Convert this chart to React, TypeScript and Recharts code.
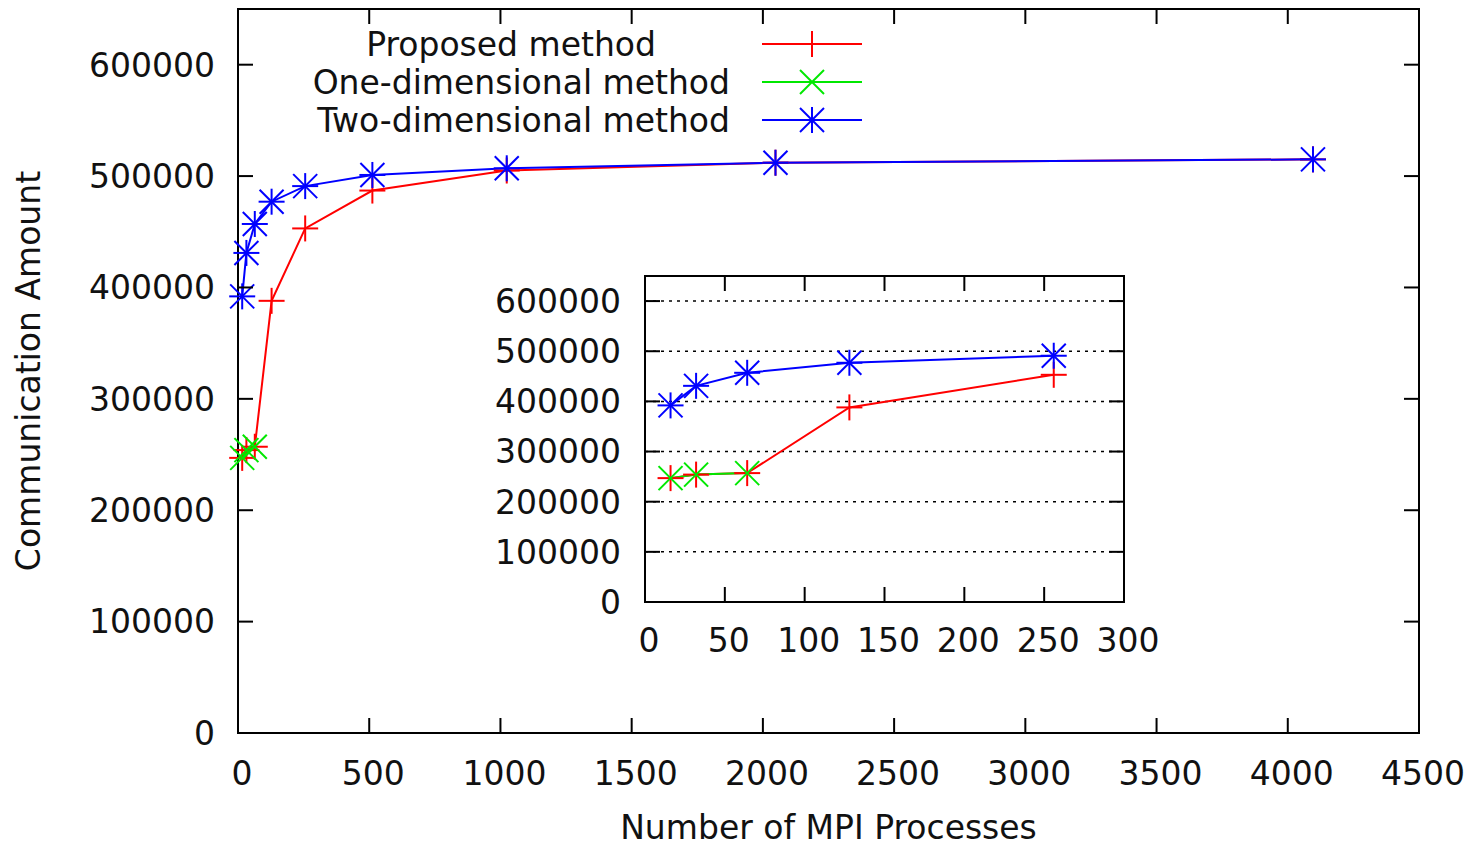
import React from 'react';
import { LineChart, Line, XAxis, YAxis, CartesianGrid, Legend, ReferenceArea } from 'recharts';

// number of MPI processes
const procs = [16, 32, 64, 128, 256, 512, 1024, 2048, 4096];
// communication amount per method
const proposed = [247000, 254000, 257000, 388000, 453000, 487000, 505000, 512000, 515000];
const oneDim = [247000, 254000, 257000, null, null, null, null, null, null];
const twoDim = [392000, 431000, 457000, 477000, 491000, 501000, 507000, 512000, 515000];

const mainXTicks = [0, 500, 1000, 1500, 2000, 2500, 3000, 3500, 4000, 4500];
const insetXTicks = [0, 50, 100, 150, 200, 250, 300];
const yTicks = [0, 100000, 200000, 300000, 400000, 500000, 600000];

const data = procs.map((p, i) => ({
  procs: p,
  proposed: proposed[i],
  oneDim: oneDim[i],
  twoDim: twoDim[i],
}));
const insetData = data.filter((d) => d.procs <= 300);

const RED = '#ff0000';
const GREEN = '#00e800';
const BLUE = '#0000ff';
const INK = '#111111';
const FONT = 'DejaVu Sans, sans-serif';
const FS = 33;
const TICK = 15;

// plot box of the main chart (px)
const M = { left: 238, right: 1419, top: 9, bottom: 733 };
// plot box of the inset chart, relative to its own svg
const I = { left: 165, right: 644, top: 10, bottom: 336 };

const Plus = ({ cx, cy, color }: any) => (
  <g stroke={color} strokeWidth={2}>
    <line x1={cx - 13} x2={cx + 13} y1={cy} y2={cy} />
    <line x1={cx} x2={cx} y1={cy - 13} y2={cy + 13} />
  </g>
);
const Cross = ({ cx, cy, color }: any) => (
  <g stroke={color} strokeWidth={2}>
    <line x1={cx - 12} x2={cx + 12} y1={cy - 12} y2={cy + 12} />
    <line x1={cx - 12} x2={cx + 12} y1={cy + 12} y2={cy - 12} />
  </g>
);
const Star = ({ cx, cy, color }: any) => (
  <g>
    <Plus cx={cx} cy={cy} color={color} />
    <Cross cx={cx} cy={cy} color={color} />
  </g>
);

const series = [
  { key: 'proposed', label: 'Proposed method', color: RED, Marker: Plus },
  { key: 'oneDim', label: 'One-dimensional method', color: GREEN, Marker: Cross },
  { key: 'twoDim', label: 'Two-dimensional method', color: BLUE, Marker: Star },
];

const makeDot = (Marker: any, color: string) => (p: any) => {
  if (p.cy == null || p.value == null || isNaN(p.cy)) return <g key={`d-${p.index}`} />;
  return <Marker key={`d-${p.index}`} cx={p.cx} cy={p.cy} color={color} />;
};

const makeXTick = (box: any, labelGap: number, dx: number) => (props: any) => {
  const { x, payload } = props;
  return (
    <g>
      <line x1={x} x2={x} y1={box.bottom} y2={box.bottom - TICK} stroke="#000" strokeWidth={2} />
      <line x1={x} x2={x} y1={box.top} y2={box.top + TICK} stroke="#000" strokeWidth={2} />
      <text x={x + dx} y={box.bottom + labelGap} dy="0.36em" textAnchor="middle" fontSize={FS} fontFamily={FONT} fill={INK}>
        {payload.value}
      </text>
    </g>
  );
};

const makeYTick = (box: any, labelGap: number) => (props: any) => {
  const { y, payload } = props;
  return (
    <g>
      <line x1={box.left} x2={box.left + TICK} y1={y} y2={y} stroke="#000" strokeWidth={2} />
      <line x1={box.right} x2={box.right - TICK} y1={y} y2={y} stroke="#000" strokeWidth={2} />
      <text x={box.left - labelGap} y={y} dy="0.36em" textAnchor="end" fontSize={FS} fontFamily={FONT} fill={INK}>
        {payload.value}
      </text>
    </g>
  );
};

const renderLegend = () => (
  <svg width={880} height={150} style={{ display: 'block' }}>
    {series.map((s, i) => {
      const y = 44 + i * 38;
      const M2 = s.Marker;
      return (
        <g key={s.key}>
          <text x={i === 0 ? 656 : 730} y={y} dy="0.35em" textAnchor="end" fontSize={FS} fontFamily={FONT} fill={INK}>
            {s.label}
          </text>
          <line x1={762} x2={862} y1={y} y2={y} stroke={s.color} strokeWidth={2} />
          <M2 cx={812} cy={y} color={s.color} />
        </g>
      );
    })}
  </svg>
);

export default function App() {
  return (
    <div style={{ position: 'relative', width: 1474, height: 846, background: '#fff', fontFamily: FONT }}>
      <style>{'body{margin:0;background:#fff}'}</style>
      <LineChart width={1474} height={846} data={data} margin={{ top: M.top, right: 1474 - M.right, bottom: 0, left: 0 }}>
        <XAxis
          dataKey="procs"
          type="number"
          domain={[0, 4500]}
          ticks={mainXTicks}
          height={846 - M.bottom}
          axisLine={false}
          tickLine={false}
          tick={makeXTick(M, 40, 4)}
          interval={0}
          label={{ value: 'Number of MPI Processes', position: 'insideBottom', offset: 7, fontSize: FS, fontFamily: FONT, fill: INK }}
        />
        <YAxis
          type="number"
          domain={[0, 650000]}
          ticks={yTicks}
          width={M.left}
          axisLine={false}
          tickLine={false}
          tick={makeYTick(M, 23)}
          interval={0}
          label={{ value: 'Communication Amount', angle: -90, position: 'insideLeft', offset: 28, fontSize: FS, fontFamily: FONT, fill: INK, style: { textAnchor: 'middle' } }}
        />
        <ReferenceArea x1={0} x2={4500} y1={0} y2={650000} fill="none" stroke="#000" strokeWidth={2} />
        {series.map((s) => (
          <Line
            key={s.key}
            type="linear"
            dataKey={s.key}
            stroke={s.color}
            strokeWidth={2}
            dot={makeDot(s.Marker, s.color)}
            activeDot={false}
            isAnimationActive={false}
          />
        ))}
        <Legend
          layout="vertical"
          align="center"
          verticalAlign="middle"
          content={renderLegend}
          wrapperStyle={{ position: 'absolute', left: 0, top: 0, width: 880, height: 150 }}
        />
      </LineChart>

      <div style={{ position: 'absolute', left: 480, top: 266 }}>
        <LineChart width={700} height={400} data={insetData} margin={{ top: I.top, right: 700 - I.right, bottom: 0, left: 0 }}>
          <CartesianGrid vertical={false} stroke="#000" strokeWidth={1.5} strokeDasharray="3 5" />
          <XAxis
            dataKey="procs"
            type="number"
            domain={[0, 300]}
            ticks={insetXTicks}
            height={400 - I.bottom}
            axisLine={false}
            tickLine={false}
            tick={makeXTick(I, 38, 4)}
            interval={0}
          />
          <YAxis
            type="number"
            domain={[0, 650000]}
            ticks={yTicks}
            width={I.left}
            axisLine={false}
            tickLine={false}
            tick={makeYTick(I, 24)}
            interval={0}
          />
          <ReferenceArea x1={0} x2={300} y1={0} y2={650000} fill="none" stroke="#000" strokeWidth={2} />
          {series.map((s) => (
            <Line
              key={s.key}
              type="linear"
              dataKey={s.key}
              stroke={s.color}
              strokeWidth={2}
              dot={makeDot(s.Marker, s.color)}
              activeDot={false}
              isAnimationActive={false}
            />
          ))}
        </LineChart>
      </div>
    </div>
  );
}
